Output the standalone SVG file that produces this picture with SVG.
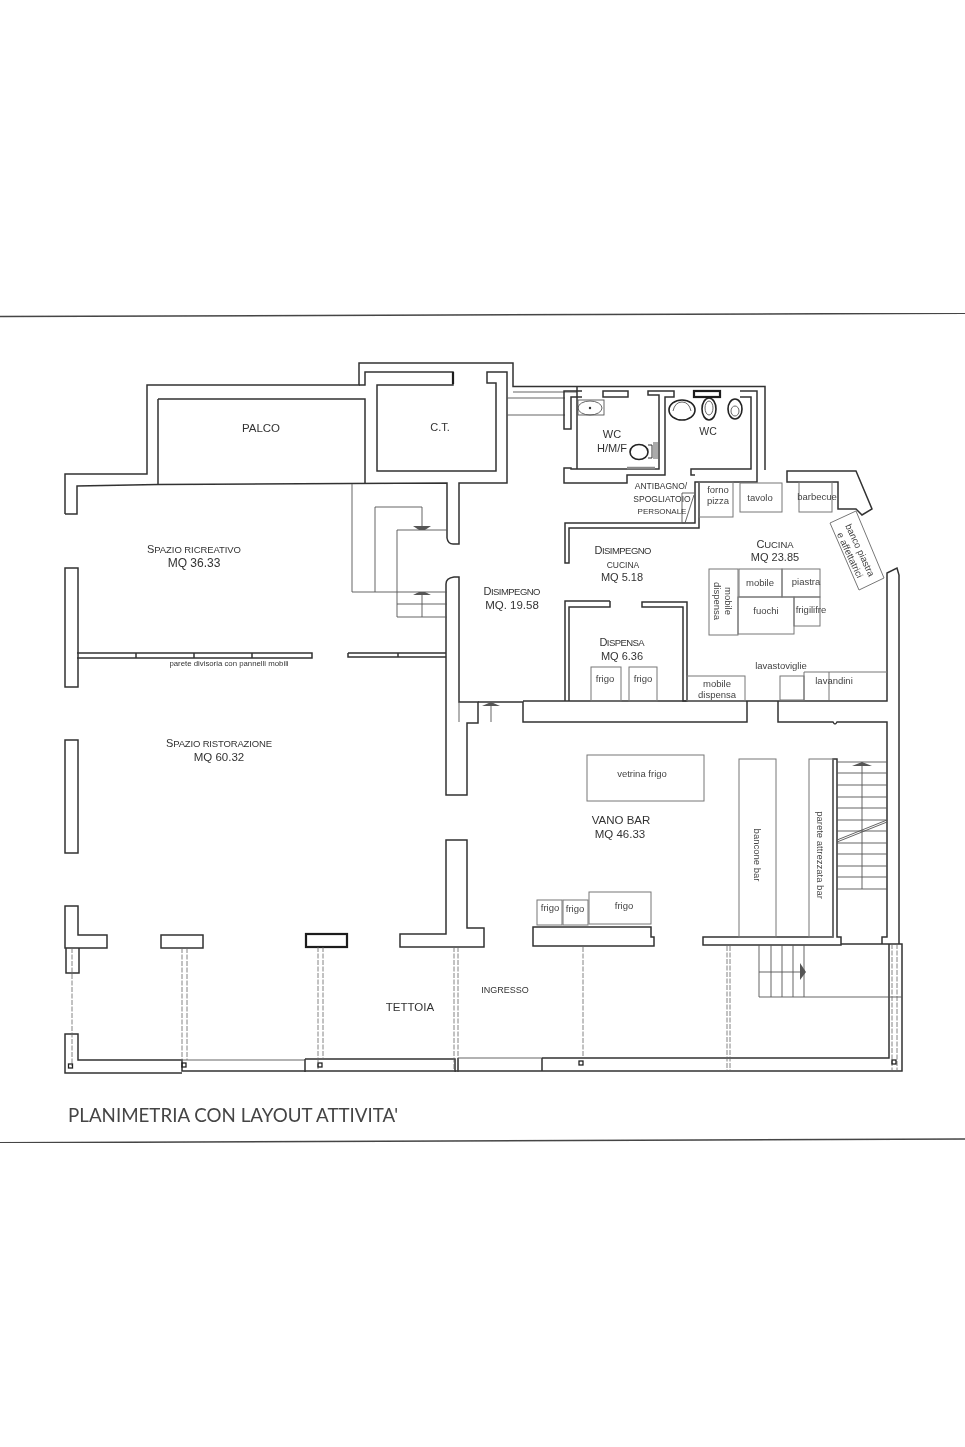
<svg xmlns="http://www.w3.org/2000/svg" width="965" height="1447" viewBox="0 0 965 1447">
<style>
.w{fill:none;stroke:#333;stroke-width:1.500;stroke-linejoin:miter}
.k{fill:none;stroke:#1c1c1c;stroke-width:2.200}
.t{fill:none;stroke:#555;stroke-width:.9}
.f{fill:none;stroke:#777;stroke-width:1}
.d{fill:none;stroke:#666;stroke-width:.8;stroke-dasharray:5 1.5}
.l{font-family:"Liberation Sans",Arial,sans-serif;fill:#333;text-anchor:middle}
.c{font-size:9.500px}
.s{font-size:9.500px;fill:#444}
.a{fill:#555}
</style>
<defs><filter id="scan" x="0" y="0" width="100%" height="100%"><feGaussianBlur stdDeviation="0.35"/></filter></defs>
<rect width="965" height="1447" fill="#fff"/>
<g filter="url(#scan)">
<g id="frame">
<path d="M0 316.500L965 313.300" stroke="#444" stroke-width="1.500" fill="none"/>
<path d="M0 1142.700L965 1139" stroke="#444" stroke-width="1.500" fill="none"/>
</g>
<g id="walls">
<path class="w" d="M65 514V474H147V385H359V363H513V386.500H765V470"/>
<path class="w" d="M65 514H77V486L158 484.500L447 483V538Q448 544 453 544H459V483H507V372H487V383H496V471H377V385H453V372H365V385H359"/>
<path class="k" d="M453 372V384"/>
<path class="w" d="M158 399H365V483M158 399V485"/>
<rect class="w" x="65" y="568" width="13" height="119"/>
<path class="w" d="M77 653H312V658H77M136 653V658M194 653V658M252 653V658"/>
<path class="w" d="M348 653H446M348 653V657H446M398 653V657"/>
<path class="w" d="M459 577H454Q446 578 446 584V795H467V723H478V702H459Z"/>
<path class="w" d="M478 702H523V722H747V701M523 701H887V573L897 568L899 575V944M778 701V722H833Q835 726 837 722H887V937H882V944"/>
<rect class="w" x="65" y="740" width="13" height="113"/>
<path class="w" d="M65 906H78V935H107V948H65ZM66 948V973H79V948"/>
<rect class="w" x="161" y="935" width="42" height="13"/>
<rect class="k" x="306" y="934" width="41" height="13"/>
<path class="w" d="M400 934H446V840H467V928H484V947H400Z"/>
<path class="w" d="M533 927H651V937H654V946H533Z"/>
<path class="w" d="M703 937H833V759H837V937H841V945H703Z"/>
<path class="w" d="M841 944H902V1071H182V1060H78V1034H65V1073H182"/>
<path class="w" d="M542 1058H889V944M542 1058V1071M305 1059H455V1072M305 1059V1072M458 1058V1072"/>
<path class="t" d="M182 1060H305M458 1058H542"/>
</g>
<g id="bath-walls">
<path class="t" d="M507 398H565M507 415H565M513 392H577"/>
<path class="w" d="M582 391H564V429H571V397H582"/>
<path class="w" d="M577 387V469"/>
<path class="w" d="M564 468H571V469H659V395H648V391H674V397H665V475H627V483H564Z"/>
<rect class="w" x="603" y="391" width="25" height="6"/>
<rect class="k" x="694" y="391" width="26" height="6" stroke-width="2"/>
<path class="w" d="M740 391H757V482H695V523H565V563H569V528H699V482M740 397H751V469H691V475H695"/>
<path class="w" d="M610 601H565V701M569 701V607H610V601M642 602H687V701H683V607H642Z"/>
<path class="w" d="M787 471H856L872 509L862 515L856 509H838V482H787Z"/>
<path class="t" d="M682 493V523H685L694 495M682 493H694"/>
</g>
<g id="connectors">
<path class="t" d="M352 484V592H447M375 592V507H422V527M397 530H447M397 530V617H447M397 604H447M422 594V617"/>
<path class="a" d="M413 526H431L425 530H419ZM413 595H431L425 592H419Z"/>
<path class="t" d="M459 702V722M491 704V722"/>
<path class="a" d="M491 702L482 706H500Z"/>
<path class="t" d="M837 762H887M837 773H887M837 785H887M837 797H887M837 808H887M837 820H887M837 831H887M837 843H887M837 854H887M837 866H887M837 877H887M837 889H887M862 762V889"/>
<path class="a" d="M862 762L852 766H872Z"/>
<path class="t" d="M837 842L887 822M837 840L887 820"/>
<path class="t" d="M759 945V997H902M771 945V997M782 945V997M793 945V997M804 945V997M759 972H800"/>
<path class="a" d="M800 963L806 972L800 980Z"/>
<path class="d" d="M72 948V1066M182 948V1072M187 948V1060M318 947V1072M323 947V1060M454 947V1072M458 947V1072M583 947V1058M727 946V1071M730 946V1071M892 944V1071M897 944V1071"/>
</g>
<g id="columns" fill="none" stroke="#222" stroke-width="1.300">
<rect x="68.500" y="1064" width="4" height="4"/>
<rect x="182" y="1063" width="4" height="4"/>
<rect x="318" y="1063" width="4" height="4"/>
<rect x="579" y="1061" width="4" height="4"/>
<rect x="892" y="1060" width="4" height="4"/>
</g>
<g id="furniture">
<rect class="f" x="699" y="482" width="34" height="35"/>
<rect class="f" x="740" y="483" width="42" height="29"/>
<rect class="f" x="799" y="482" width="33" height="30"/>
<path class="f" d="M830 523L856 511L884 578L859 590Z"/>
<rect class="f" x="709" y="569" width="29" height="66"/>
<rect class="f" x="739" y="569" width="43" height="28"/>
<rect class="f" x="782" y="569" width="38" height="28"/>
<rect class="f" x="738" y="597" width="56" height="37"/>
<rect class="f" x="794" y="597" width="26" height="29"/>
<rect class="f" x="591" y="667" width="30" height="34"/>
<rect class="f" x="629" y="667" width="28" height="34"/>
<rect class="f" x="687" y="676" width="58" height="25"/>
<rect class="f" x="780" y="676" width="24" height="24"/>
<path class="f" d="M804 700V672H887M829 672V700"/>
<rect class="f" x="587" y="755" width="117" height="46"/>
<rect class="f" x="739" y="759" width="37" height="178"/>
<rect class="f" x="809" y="759" width="24" height="178"/>
<rect class="f" x="537" y="900" width="25" height="25"/>
<rect class="f" x="563" y="900" width="25" height="25"/>
<rect class="f" x="589" y="892" width="62" height="32"/>
<path d="M627 468H655" stroke="#888" stroke-width="2.500" fill="none"/>
<rect class="t" x="578" y="400" width="26" height="15"/>
<ellipse class="t" cx="590" cy="408" rx="12" ry="7"/>
<circle cx="590" cy="408" r="1.200" fill="#333"/>
<ellipse cx="682" cy="410" rx="13" ry="10" fill="none" stroke="#222" stroke-width="1.600"/>
<path class="t" d="M673 411Q675 402 682 402Q689 402 691 411"/>
<ellipse cx="709" cy="409" rx="7" ry="11" fill="none" stroke="#222" stroke-width="1.600"/>
<ellipse class="t" cx="709" cy="408" rx="4" ry="7"/>
<ellipse cx="735" cy="409" rx="7" ry="10" fill="none" stroke="#222" stroke-width="1.600"/>
<ellipse class="t" cx="735" cy="411" rx="4" ry="5"/>
<ellipse cx="639" cy="452" rx="9" ry="7.500" fill="none" stroke="#222" stroke-width="1.600"/>
<path d="M648 445H652V458H648" fill="none" stroke="#333" stroke-width="1"/>
<rect x="653" y="442" width="5" height="17" fill="#aaa"/>
</g>
<g id="labels">
<text class="l" x="261" y="432" font-size="11.500">PALCO</text>
<text class="l" x="440" y="431" font-size="11">C.T.</text>
<text class="l c" x="194" y="553" textLength="94"><tspan font-size="11">S</tspan>PAZIO RICREATIVO</text>
<text class="l" x="194" y="567" font-size="12">MQ 36.33</text>
<text class="l" x="229" y="666" font-size="7.800">parete divisoria con pannelli mobili</text>
<text class="l c" x="219" y="747" textLength="106"><tspan font-size="11">S</tspan>PAZIO RISTORAZIONE</text>
<text class="l" x="219" y="761" font-size="11.500">MQ 60.32</text>
<text class="l" x="410" y="1011" font-size="11.500">TETTOIA</text>
<text class="l" x="505" y="993" font-size="9">INGRESSO</text>
<text class="l c" x="512" y="595" textLength="57"><tspan font-size="11">D</tspan>ISIMPEGNO</text>
<text class="l" x="512" y="609" font-size="11.500">MQ. 19.58</text>
<text class="l c" x="623" y="554" textLength="57"><tspan font-size="11">D</tspan>ISIMPEGNO</text>
<text class="l" x="623" y="568" font-size="8.500">CUCINA</text>
<text class="l" x="622" y="581" font-size="11">MQ 5.18</text>
<text class="l c" x="622" y="646" textLength="45"><tspan font-size="11">D</tspan>ISPENSA</text>
<text class="l" x="622" y="660" font-size="11">MQ 6.36</text>
<text class="l c" x="775" y="548" textLength="37"><tspan font-size="11">C</tspan>UCINA</text>
<text class="l" x="775" y="561" font-size="11">MQ 23.85</text>
<text class="l" x="612" y="438" font-size="11">WC</text>
<text class="l" x="612" y="452" font-size="11">H/M/F</text>
<text class="l" x="708" y="435" font-size="10.500">WC</text>
<text class="l" x="661" y="489" font-size="8.500" fill="#555">ANTIBAGNO/</text>
<text class="l" x="662" y="502" font-size="8.500">SPOGLIATOIO</text>
<text class="l" x="662" y="514" font-size="8">PERSONALE</text>
<text class="l s" x="718" y="493">forno</text>
<text class="l s" x="718" y="504">pizza</text>
<text class="l s" x="760" y="501">tavolo</text>
<text class="l s" x="817" y="500">barbecue</text>
<text class="l s" transform="translate(857 551.500) rotate(65)">banco piastra</text>
<text class="l s" transform="translate(847 556.500) rotate(65)">e affettatrici</text>
<text class="l s" x="760" y="586">mobile</text>
<text class="l s" x="806" y="585">piastra</text>
<text class="l s" x="766" y="614">fuochi</text>
<text class="l s" x="811" y="613">frigilifre</text>
<text class="l s" transform="translate(725 601) rotate(90)">mobile</text>
<text class="l s" transform="translate(714 601) rotate(90)">dispensa</text>
<text class="l s" x="605" y="682">frigo</text>
<text class="l s" x="643" y="682">frigo</text>
<text class="l s" x="717" y="687">mobile</text>
<text class="l s" x="717" y="698">dispensa</text>
<text class="l s" x="781" y="669">lavastoviglie</text>
<text class="l s" x="834" y="684">lavandini</text>
<text class="l s" x="642" y="777">vetrina frigo</text>
<text class="l" x="621" y="824" font-size="11.500">VANO BAR</text>
<text class="l" x="620" y="838" font-size="11.500">MQ 46.33</text>
<text class="l s" transform="translate(754 855) rotate(90)">bancone bar</text>
<text class="l s" transform="translate(817 855) rotate(90)">parete attrezzata bar</text>
<text class="l s" x="550" y="911">frigo</text>
<text class="l s" x="575" y="912">frigo</text>
<text class="l s" x="624" y="909">frigo</text>
<text x="68" y="1122" font-family="Lato,'Open Sans',sans-serif" font-size="19" fill="#444" textLength="330" lengthAdjust="spacingAndGlyphs">PLANIMETRIA CON LAYOUT ATTIVITA'</text>
</g>
</g>
</svg>
